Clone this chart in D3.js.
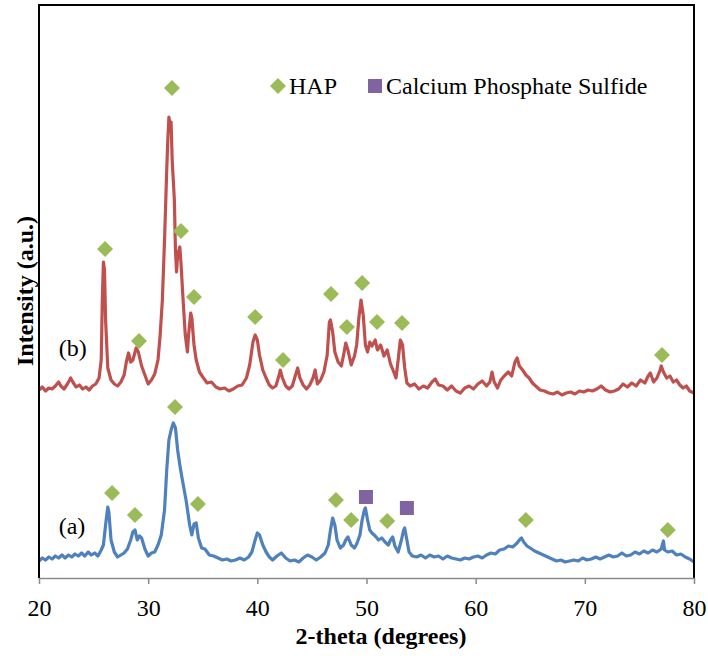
<!DOCTYPE html>
<html>
<head>
<meta charset="utf-8">
<script src="https://cdn.jsdelivr.net/npm/d3@7"></script>
<style>
body { margin: 0; background: #fff; }
svg text { font-family: "Liberation Serif", "Times New Roman", serif; fill: #000; }
</style>
</head>
<body>
<svg id="chart" width="708" height="656"></svg>
<script>
// 2-theta ticks
var xTicks = [20, 30, 40, 50, 60, 70, 80];

// pattern (b), [2-theta, intensity a.u.]
var patternB = [
  [20.0,376],[20.3,382],[20.6,374],[20.9,380],[21.2,378],[21.5,384],[21.8,392],[22.0,384],[22.3,378],[22.6,388],
  [22.9,400],[23.1,392],[23.4,382],[23.7,386],[24.0,378],[24.3,382],[24.6,376],[24.9,384],[25.2,388],[25.5,400],
  [25.7,436],[25.8,556],[25.9,632],[26.0,616],[26.1,516],[26.3,420],[26.6,396],[26.9,388],[27.2,384],[27.5,392],
  [27.8,406],[28.0,432],[28.2,450],[28.4,432],[28.6,436],[28.9,460],[29.1,452],[29.4,424],[29.7,406],[30.0,388],
  [30.3,396],[30.6,408],[30.9,436],[31.1,486],[31.3,556],[31.5,676],[31.7,816],[31.8,876],[31.9,922],[32.0,906],
  [32.1,912],[32.2,836],[32.4,756],[32.5,656],[32.6,612],[32.7,646],[32.9,662],[33.0,632],[33.2,556],[33.4,486],
  [33.6,452],[33.7,486],[33.9,530],[34.0,520],[34.2,466],[34.4,436],[34.7,412],[35.0,402],[35.4,390],[35.8,392],
  [36.2,382],[36.6,378],[37.0,380],[37.4,374],[37.8,378],[38.2,384],[38.6,386],[39.0,400],[39.3,426],[39.6,472],
  [39.8,486],[40.0,476],[40.2,446],[40.5,416],[40.8,400],[41.1,386],[41.4,380],[41.7,384],[42.0,406],[42.1,416],
  [42.3,400],[42.6,384],[42.9,378],[43.2,384],[43.5,406],[43.7,420],[43.9,400],[44.2,386],[44.5,378],[44.8,386],
  [45.1,400],[45.3,416],[45.5,388],[45.8,396],[46.1,412],[46.4,446],[46.6,512],[46.7,516],[46.9,492],[47.1,452],
  [47.4,432],[47.7,424],[47.9,446],[48.1,470],[48.3,456],[48.6,426],[48.9,444],[49.1,466],[49.3,520],[49.5,556],
  [49.7,526],[49.9,466],[50.1,452],[50.3,472],[50.5,464],[50.8,476],[51.0,456],[51.3,466],[51.6,444],[51.9,456],
  [52.2,428],[52.5,412],[52.7,400],[52.9,436],[53.1,476],[53.3,466],[53.5,420],[53.7,390],[54.0,384],[54.4,388],
  [54.8,378],[55.2,384],[55.6,380],[56.0,392],[56.3,398],[56.6,386],[57.0,384],[57.4,376],[57.8,384],[58.2,374],
  [58.6,370],[59.0,380],[59.4,384],[59.8,378],[60.2,388],[60.6,394],[61.0,384],[61.3,392],[61.5,412],[61.7,392],
  [62.0,380],[62.3,396],[62.7,406],[63.0,412],[63.3,404],[63.6,432],[63.8,440],[64.0,424],[64.3,416],[64.6,406],
  [64.9,400],[65.2,390],[65.5,384],[65.9,376],[66.3,374],[66.7,370],[67.1,368],[67.5,372],[67.9,366],[68.3,370],
  [68.7,372],[69.1,368],[69.5,374],[69.9,372],[70.3,376],[70.7,374],[71.1,378],[71.5,384],[71.9,376],[72.3,372],
  [72.7,374],[73.1,378],[73.5,388],[73.9,382],[74.3,390],[74.7,384],[75.1,396],[75.5,390],[75.8,404],[76.0,410],
  [76.3,392],[76.6,400],[76.9,416],[77.0,424],[77.2,412],[77.5,400],[77.8,404],[78.1,392],[78.4,396],[78.7,386],
  [79.0,380],[79.3,384],[79.6,374],[80.0,370]
];

// pattern (a)
var patternA = [
  [20.0,34],[20.3,40],[20.6,36],[20.9,42],[21.2,38],[21.5,44],[21.8,40],[22.1,46],[22.4,40],[22.7,46],
  [23.0,42],[23.3,48],[23.6,44],[23.9,50],[24.2,44],[24.5,52],[24.8,46],[25.1,50],[25.4,44],[25.7,56],
  [25.9,66],[26.1,106],[26.3,142],[26.4,132],[26.6,76],[26.9,52],[27.2,42],[27.5,46],[27.8,50],[28.1,58],
  [28.4,76],[28.6,92],[28.8,96],[29.0,76],[29.2,84],[29.4,80],[29.7,58],[30.0,44],[30.3,50],[30.6,52],
  [30.9,66],[31.2,86],[31.5,136],[31.7,216],[31.9,276],[32.1,296],[32.3,310],[32.5,300],[32.7,256],[32.9,226],
  [33.1,200],[33.3,176],[33.5,152],[33.8,106],[34.0,86],[34.2,108],[34.4,110],[34.6,80],[34.9,60],[35.2,58],
  [35.6,46],[36.0,44],[36.4,40],[36.8,36],[37.2,38],[37.6,34],[38.0,36],[38.4,40],[38.8,36],[39.2,42],
  [39.5,52],[39.8,76],[40.0,90],[40.2,86],[40.5,66],[40.8,52],[41.1,42],[41.4,36],[41.8,44],[42.2,50],
  [42.6,40],[43.0,34],[43.4,36],[43.8,32],[44.2,40],[44.6,46],[45.0,42],[45.4,36],[45.8,42],[46.2,50],
  [46.5,66],[46.7,96],[46.9,120],[47.1,106],[47.3,76],[47.6,60],[47.9,66],[48.1,76],[48.3,82],[48.6,66],
  [48.9,60],[49.1,68],[49.4,86],[49.6,116],[49.8,136],[49.9,140],[50.1,116],[50.3,96],[50.5,90],[50.8,84],
  [51.1,76],[51.4,80],[51.7,72],[52.0,66],[52.2,76],[52.4,82],[52.6,64],[52.9,52],[53.2,76],[53.4,96],
  [53.5,100],[53.7,76],[53.9,52],[54.2,44],[54.6,42],[55.0,46],[55.4,40],[55.8,46],[56.2,42],[56.6,44],
  [57.0,38],[57.4,44],[57.8,40],[58.2,38],[58.6,36],[59.0,40],[59.4,38],[59.8,42],[60.2,44],[60.6,40],
  [61.0,46],[61.4,50],[61.8,48],[62.2,56],[62.6,58],[63.0,64],[63.4,62],[63.8,70],[64.0,76],[64.2,80],
  [64.4,72],[64.7,64],[65.0,60],[65.4,54],[65.8,50],[66.2,46],[66.6,42],[67.0,38],[67.4,34],[67.8,36],
  [68.2,32],[68.6,34],[69.0,36],[69.4,34],[69.8,40],[70.2,36],[70.6,38],[71.0,42],[71.4,38],[71.8,42],
  [72.2,46],[72.6,42],[73.0,44],[73.4,50],[73.8,44],[74.2,46],[74.6,52],[75.0,48],[75.4,54],[75.8,50],
  [76.2,56],[76.6,52],[77.0,58],[77.2,74],[77.3,56],[77.6,52],[78.0,54],[78.4,46],[78.8,48],[79.2,42],
  [79.6,38],[80.0,32]
];

// HAP peak markers
var hapB = [[26.05,658],[29.16,474],[32.18,980],[33.0,694],[34.2,562],[39.8,522],[42.35,436],
            [46.75,568],[48.2,502],[49.6,590],[50.96,512],[53.25,510],[77.07,446]];
var hapA = [[26.69,170],[28.79,126],[32.46,342],[34.56,148],[47.2,156],[48.6,116],
            [51.9,114],[64.6,116],[77.6,96]];
// Calcium phosphate sulfide markers
var cpsA = [[49.95,162],[53.7,140]];

// sample labels
var sampleLabels = [{text: "(b)", x: 21.8, y: 444}, {text: "(a)", x: 21.8, y: 88}];
var legendNames = ["HAP", "Calcium Phosphate Sulfide"];

var colors = {b: "#c0504d", a: "#4f81bd", hap: "#9bbb59", cps: "#8064a2"};

var svg = d3.select("#chart");
var plotL = 39, plotR = 694, plotT = 5, plotB = 578;

var xScale = d3.scaleLinear().domain([20, 80]).range([plotL, plotR]);
var yScale = d3.scaleLinear().domain([0, 1146]).range([plotB, plotT]);

var line = d3.line()
    .x(function(d) { return xScale(d[0]); })
    .y(function(d) { return yScale(d[1]); });

svg.append("path").datum(patternB)
    .attr("d", line)
    .attr("fill", "none")
    .attr("stroke", colors.b)
    .attr("stroke-width", 3.2)
    .attr("stroke-linejoin", "round");

svg.append("path").datum(patternA)
    .attr("d", line)
    .attr("fill", "none")
    .attr("stroke", colors.a)
    .attr("stroke-width", 3.2)
    .attr("stroke-linejoin", "round");

var diamond = "M0,-8L8,0L0,8L-8,0Z";

svg.selectAll(".hap")
    .data(hapB.concat(hapA))
    .enter().append("path")
    .attr("class", "hap")
    .attr("d", diamond)
    .attr("transform", function(d) { return "translate(" + xScale(d[0]) + "," + yScale(d[1]) + ")"; })
    .style("fill", colors.hap);

svg.selectAll(".cps")
    .data(cpsA)
    .enter().append("rect")
    .attr("class", "cps")
    .attr("x", function(d) { return xScale(d[0]) - 7; })
    .attr("y", function(d) { return yScale(d[1]) - 7; })
    .attr("width", 14)
    .attr("height", 14)
    .style("fill", colors.cps);

// frame: left, top, right in black
svg.append("path")
    .attr("d", "M" + plotL + "," + plotB + "V" + plotT + "H" + plotR + "V" + plotB)
    .attr("fill", "none")
    .attr("stroke", "#000")
    .attr("stroke-width", 2);

var xAxis = d3.axisBottom(xScale)
    .tickValues(xTicks)
    .tickSize(6)
    .tickSizeOuter(0)
    .tickPadding(15);

var gx = svg.append("g")
    .attr("transform", "translate(0," + plotB + ")")
    .call(xAxis);
gx.select(".domain").attr("stroke", "#8a8a8a").attr("stroke-width", 1.5);
gx.selectAll(".tick line").attr("stroke", "#8a8a8a").attr("stroke-width", 1.5);
gx.selectAll(".tick text")
    .style("font-family", "'Liberation Serif', 'Times New Roman', serif")
    .style("font-size", "24px")
    .attr("fill", "#000");

svg.selectAll(".sample")
    .data(sampleLabels)
    .enter().append("text")
    .attr("class", "sample")
    .attr("x", function(d) { return xScale(d.x); })
    .attr("y", function(d) { return yScale(d.y); })
    .style("font-size", "24px")
    .text(function(d) { return d.text; });

// axis titles
svg.append("text")
    .attr("x", 381).attr("y", 644)
    .style("text-anchor", "middle")
    .style("font-size", "24px")
    .style("font-weight", "bold")
    .text("2-theta (degrees)");

svg.append("text")
    .attr("transform", "translate(33,291) rotate(-90)")
    .style("text-anchor", "middle")
    .style("font-size", "24px")
    .style("font-weight", "bold")
    .text("Intensity (a.u.)");

// legend
var legend = svg.append("g");
legend.append("path")
    .attr("d", diamond)
    .attr("transform", "translate(278,86)")
    .style("fill", colors.hap);
legend.append("text")
    .attr("x", 289).attr("y", 94)
    .style("font-size", "24px")
    .text(legendNames[0]);
legend.append("rect")
    .attr("x", 368).attr("y", 79)
    .attr("width", 14).attr("height", 14)
    .style("fill", colors.cps);
legend.append("text")
    .attr("x", 386).attr("y", 94)
    .style("font-size", "24px")
    .text(legendNames[1]);
</script>
</body>
</html>
